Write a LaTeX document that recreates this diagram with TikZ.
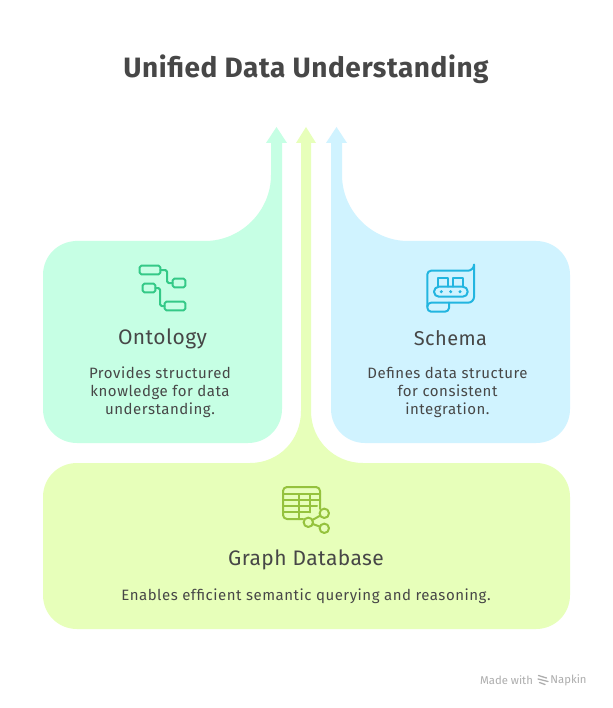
\documentclass[tikz,border=0pt]{standalone}
\usepackage{fontspec}
\setmainfont{Fira Sans}
\newfontfamily\spaced[LetterSpace=3.5]{Fira Sans}
\newfontfamily\spacedhead[LetterSpace=2]{Fira Sans}
\definecolor{ink}{HTML}{474747}
\definecolor{bgG}{HTML}{C6FFE4}
\definecolor{bgY}{HTML}{E7FFBA}
\definecolor{bgB}{HTML}{D0F3FF}
\definecolor{icG}{HTML}{34C987}
\definecolor{icY}{HTML}{95C23D}
\definecolor{icB}{HTML}{22B5E0}
\tikzset{
  titletext/.style={text=ink,font=\spacedhead\fontsize{28}{32}\selectfont\bfseries,anchor=center,inner sep=0pt},
  headtext/.style={text=ink,font=\spacedhead\fontsize{21}{25}\selectfont,anchor=center,inner sep=0pt},
  bodytext/.style={text=ink,font=\spaced\fontsize{15}{18}\selectfont,anchor=center,align=center,inner sep=0pt},
  iconline/.style={line width=2pt,line cap=round,line join=round,rounded corners=1.6pt},
  sharpicon/.style={line width=2pt,line cap=round,line join=round},
  foot/.style={text=black!32,font=\fontsize{11.3}{13}\selectfont,anchor=center,inner sep=0pt},
}
\begin{document}
\begin{tikzpicture}[x=1pt,y=-1pt]
\useasboundingbox (0,0) rectangle (612,708);
\fill[white] (0,0) rectangle (612,708);
% Ontology shape
\fill[bgG] (75,241) -- (205,241) .. controls (241,241) and (271,211) .. (271,175) -- (271,143) -- (266,143) -- (276.5,127) -- (287,143) -- (282,143) -- (282,409) .. controls (282,428) and (267,443) .. (248,443) -- (77,443) .. controls (58,443) and (43,428) .. (43,409) -- (43,275) .. controls (43,256) and (58,241) .. (77,241) -- cycle;
% Schema shape
\fill[bgB] (536,241) -- (408,241) .. controls (372,241) and (342,211) .. (342,175) -- (342,143) -- (347,143) -- (336.5,127) -- (326,143) -- (331,143) -- (331,409) .. controls (331,428) and (346,443) .. (365,443) -- (536,443) .. controls (555,443) and (570,428) .. (570,409) -- (570,275) .. controls (570,256) and (555,241) .. (536,241) -- cycle;
% Graph database shape
\fill[bgY] (77,463) -- (250,463) .. controls (279,463) and (301,440) .. (301,411) -- (301,143) -- (296,143) -- (306,127) -- (316,143) -- (311,143) -- (311,411) .. controls (311,440) and (334,463) .. (363,463) -- (536,463) .. controls (555,463) and (570,478) .. (570,497) -- (570,595) .. controls (570,614) and (555,629) .. (536,629) -- (77,629) .. controls (58,629) and (43,614) .. (43,595) -- (43,497) .. controls (43,478) and (58,463) .. (77,463) -- cycle;
% Ontology icon
\begin{scope}[draw=icG]
\draw[iconline] (139.7,265.7) rectangle (160.3,274.3);
\draw[iconline] (172.7,278.7) rectangle (185.3,287.3);
\draw[iconline] (142.7,283.7) rectangle (155.3,292.3);
\draw[iconline] (164.7,301.7) rectangle (185.3,310.3);
\draw[iconline] (160.3,270) -- (167,270) -- (167,283) -- (172.7,283);
\draw[iconline] (155.3,288) -- (160,288) -- (160,306) -- (164.7,306);
\end{scope}
% Schema icon
\begin{scope}[draw=icB]
\draw[sharpicon] (474,264.7) .. controls (474,268) and (471,270.7) .. (468,270.7) -- (431,270.7) .. controls (429,270.7) and (427.3,272.4) .. (427.3,274.5) -- (427.3,307.5) .. controls (427.3,309.8) and (429,311.7) .. (431,311.7) -- (445,311.7) .. controls (447.2,311.7) and (449,310) .. (449,308) -- (449,302.7);
\draw[sharpicon] (427.3,306.5) .. controls (427.3,304.3) and (429,302.7) .. (431,302.7) -- (468,302.7) .. controls (471.3,302.7) and (474,300) .. (474,297) -- (474,264.7);
\draw[sharpicon] (437.7,286.7) -- (437.7,278) -- (447.7,278) -- (447.7,286.7);
\draw[sharpicon] (453.3,286.7) -- (453.3,278) -- (463.3,278) -- (463.3,286.7);
\draw[sharpicon,rounded corners=4.9pt] (434,286.7) rectangle (467.7,296.7);
\fill[icB] (441.3,291.7) circle (1.7) (450.7,291.7) circle (1.7) (460,291.7) circle (1.7);
\end{scope}
% Database icon
\begin{scope}[draw=icY]
\draw[sharpicon] (303,519) -- (287,519) .. controls (284.8,519) and (283,517.2) .. (283,515) -- (283,491) .. controls (283,488.8) and (284.8,487) .. (287,487) -- (316,487) .. controls (318.2,487) and (320,488.8) .. (320,491) -- (320,509);
\draw[sharpicon] (283,494) -- (320,494);
\draw[sharpicon] (283,500) -- (320,500);
\draw[sharpicon] (283,506) -- (317,506);
\draw[sharpicon] (283,512.3) -- (310,512.3);
\draw[sharpicon] (299,494) -- (299,519);
\draw[sharpicon] (310,494) -- (310,512.3);
\draw[sharpicon,fill=bgY] (324.3,513.3) circle (4.7);
\draw[sharpicon,fill=bgY] (308.3,522.3) circle (4.7);
\draw[sharpicon,fill=bgY] (324.3,528.3) circle (4.7);
\draw[sharpicon] (312.4,520) -- (320.2,515.6);
\draw[sharpicon] (312.7,524) -- (319.9,526.6);
\end{scope}
% Text
\node[titletext] (title) at (306,69.5) {Unified Data Understanding};
\node[headtext] (ontoh) at (162.5,338.5) {Ontology};
\node[bodytext] (ontob) at (160,392) {Provides structured\\knowledge for data\\understanding.};
\node[headtext,font=\spacedhead\fontsize{20}{25}\selectfont] (schemah) at (450.5,338.5) {Schema};
\node[bodytext] (schemab) at (447.5,392) {Defines data structure\\for consistent\\integration.};
\node[headtext] (graphh) at (306,560) {Graph Database};
\node[bodytext] (graphb) at (306,596) {Enables efficient semantic querying and reasoning.};
% Footer
\node[foot] (made) at (506.5,680) {Made with};
\node[foot] (napkin) at (568.5,680) {Napkin};
\draw[black!32,line width=1.3pt,line cap=round] (538.5,675.5) -- (546.5,678) (538,679) -- (548,681.5) (539.5,682.5) -- (545,684.5);
\end{tikzpicture}
\end{document}
